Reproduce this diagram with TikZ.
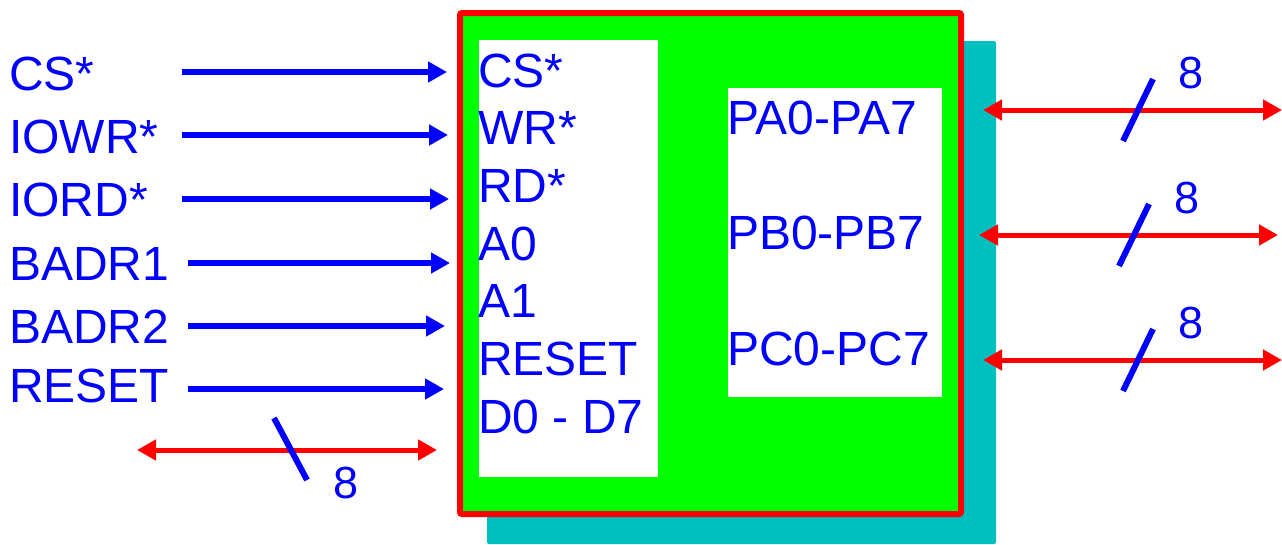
\documentclass[tikz,border=0pt]{standalone}
\usepackage{fontspec}
\setmainfont{Liberation Sans}
\usetikzlibrary{arrows.meta}
\definecolor{sigblue}{RGB}{0,0,255}
\definecolor{busred}{RGB}{255,0,0}
\definecolor{chipgreen}{RGB}{0,255,0}
\definecolor{shadowcyan}{RGB}{0,191,191}
\tikzset{
  >=latex,  % frecce di default
  % Testi
  sig/.style={text=sigblue,font=\fontsize{48}{48}\selectfont,inner sep=0,anchor=base west},
  pin/.style={sig},
  num/.style={sig,font=\fontsize{45}{45}\selectfont},
  % Chip
  chip/.style={fill=chipgreen,draw=busred,line width=6,rounded corners=2},
  % Connessioni
  sig arrow/.style={-{Triangle[length=19,width=20]},line width=6,sigblue},
  bus arrow/.style={{Triangle[length=19,width=20]}-{Triangle[length=19,width=20]},line width=5,busred},
  bus slash/.style={line width=6,sigblue}
}
\begin{document}
\begin{tikzpicture}[x=1pt,y=-1pt]
  \useasboundingbox (0,0) rectangle (1282,544);
  % Chip con ombra
  \fill[shadowcyan,rounded corners=2] (487,41) rectangle (996,544);
  \filldraw[chip] (460,13) rectangle (961,514);
  \fill[white] (479,40) rectangle (658,477);
  \fill[white] (728,88) rectangle (942,397);
  % Pin
  \foreach \name/\txt [count=\i from 0] in {cs/CS*,wr/WR*,rd/RD*,a0/A0,a1/A1,reset/RESET,data/D0 - D7}
    \node[pin] (pin \name) at (478,87+57.7*\i) {\txt};
  \node[pin] (pin pa) at (727,134) {PA0-PA7};
  \node[pin] (pin pb) at (727,249.5) {PB0-PB7};
  \node[pin] (pin pc) at (727,365) {PC0-PC7};
  % Segnali di ingresso
  \foreach \name/\txt/\ty/\ay/\xa/\xb in {cs/CS*/90/72/182/447, iowr/IOWR*/153/135/182/448,
      iord/IORD*/216/199/182/449, badr1/BADR1/280/263/188/450,
      badr2/BADR2/343/326/188/445, reset/RESET/402/389/188/444}{
    \node[sig] (\name) at (9,\ty) {\txt};
    \coordinate (\name a) at (\xa,\ay);
    \coordinate (\name b) at (\xb,\ay);
    \draw[sig arrow] (\name a) -- (\name b);
  }
  % Bus dati
  \coordinate (db l) at (137,450);
  \coordinate (db r) at (437,450);
  \draw[bus arrow] (db l) -- (db r);
  \draw[bus slash] (274,418) -- (307,480);
  \node[num] (db n) at (333,498) {8};
  % Porte A, B, C
  \foreach \name/\x/\y in {pa/983/110, pb/979/235, pc/983/360}{
    \coordinate (\name l) at (\x,\y);
    \coordinate (\name r) at (\x+299,\y);
    \draw[bus arrow] (\name l) -- (\name r);
    \draw[bus slash] (\x+170,\y-31) -- (\x+140,\y+31);
    \node[num] (\name n) at (\x+195,\y-22) {8};
  }
\end{tikzpicture}
\end{document}
